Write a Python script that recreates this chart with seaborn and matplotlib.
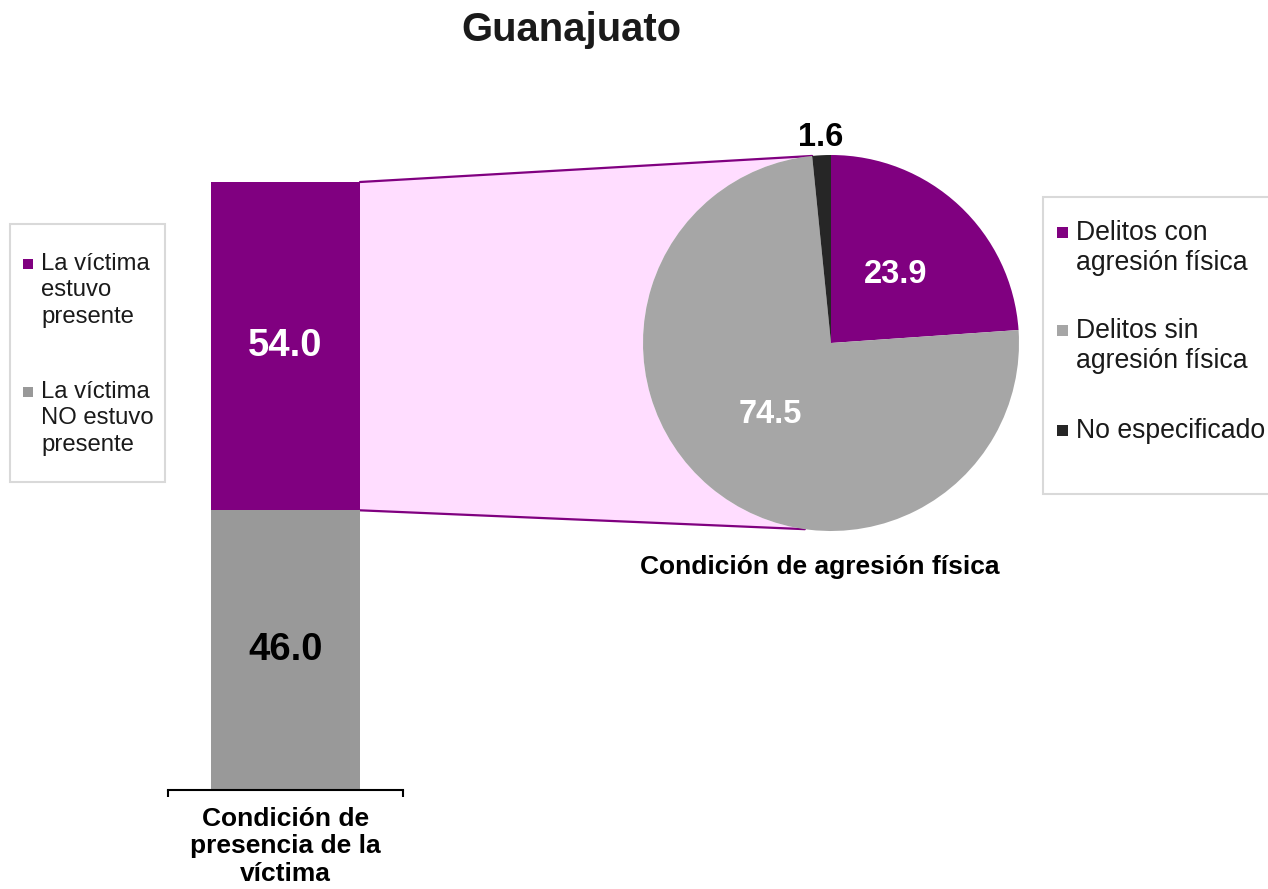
import numpy as np
import pandas as pd
import seaborn as sns
from matplotlib import pyplot as plt
from matplotlib.patches import Polygon, Rectangle

# data
titulo = "Guanajuato"
presencia_cat = "Condición de\npresencia de la\nvíctima"
presencia_labels = ["La víctima\nestuvo\npresente", "La víctima\nNO estuvo\npresente"]
presencia_values = [54.0, 46.0]
agresion_title = "Condición de agresión física"
agresion_labels = ["Delitos con\nagresión física", "Delitos sin\nagresión física", "No especificado"]
agresion_values = [23.9, 74.5, 1.6]

PURPLE = "#800080"
GRAY_BAR = "#999999"
GRAY_PIE = "#A6A6A6"
DARK = "#262626"
PINK = "#FFDDFF"

sns.set_theme(style="white")
plt.rcParams['font.family'] = ['Liberation Sans', 'DejaVu Sans']

W, H = 1268, 889
fig = plt.figure(figsize=(W / 100, H / 100), dpi=100)

# overlay in pixel coords for connectors and legends
over = fig.add_axes([0, 0, 1, 1], zorder=0)
over.set_xlim(0, W)
over.set_ylim(H, 0)
over.axis("off")

# stacked bar
bar_ax = fig.add_axes([168 / W, (H - 790) / H, 235 / W, 608 / H], zorder=2)
bar_ax.set_facecolor("none")
total = sum(presencia_values)
df_bar = pd.DataFrame({"cat": [presencia_cat], "total": [total], "low": [presencia_values[1]]})
sns.barplot(data=df_bar, x="cat", y="total", color=PURPLE, saturation=1, width=0.634,
            linewidth=0, ax=bar_ax)
sns.barplot(data=df_bar, x="cat", y="low", color=GRAY_BAR, saturation=1, width=0.634,
            linewidth=0, ax=bar_ax)
bar_ax.set_xlim(-0.5, 0.5)
bar_ax.set_ylim(0, total)
bar_ax.set_xlabel("")
bar_ax.set_ylabel("")
bar_ax.set_yticks([])
bar_ax.set_xticks([-0.5, 0.5], labels=["", ""])
bar_ax.set_xticks([0], labels=[presencia_cat], minor=True)
bar_ax.tick_params(axis="x", which="major", direction="out", length=5, width=1.5,
                   color="black", bottom=True)
bar_ax.tick_params(axis="x", which="minor", length=0, pad=12, labelsize=19)
for lab in bar_ax.get_xticklabels(minor=True):
    lab.set_fontweight("bold")
    lab.set_linespacing(1.2)
    lab.set_color("black")
for side in ["left", "top", "right"]:
    bar_ax.spines[side].set_visible(False)
bar_ax.spines["bottom"].set_color("black")
bar_ax.spines["bottom"].set_linewidth(1.5)

bar_patch = bar_ax.patches[0]
bx = bar_patch.get_x() + bar_patch.get_width() / 2
bar_ax.text(bx, presencia_values[1] + presencia_values[0] / 2, f"{presencia_values[0]:.1f}",
            ha="center", va="center", color="white", fontsize=27.5, fontweight="bold")
bar_ax.text(bx, presencia_values[1] / 2, f"{presencia_values[1]:.1f}",
            ha="center", va="center", color="black", fontsize=27.5, fontweight="bold")

# pie
cx, cy, r = 831, 343, 188
pie_ax = fig.add_axes([(cx - r) / W, (H - cy - r) / H, 2 * r / W, 2 * r / H], zorder=2)
wedges, _ = pie_ax.pie(agresion_values, colors=[PURPLE, GRAY_PIE, DARK], startangle=90,
                       counterclock=False, radius=1, wedgeprops={"linewidth": 0})
pie_ax.set_xlim(-1, 1)
pie_ax.set_ylim(-1, 1)
dists = [0.5, 0.5, 1.095]
tcolors = ["white", "white", "black"]
for w, v, d, c in zip(wedges, agresion_values, dists, tcolors):
    ang = np.deg2rad((w.theta1 + w.theta2) / 2)
    pie_ax.text(d * np.cos(ang), d * np.sin(ang), f"{v:.1f}", ha="center", va="center",
                color=c, fontsize=23.5, fontweight="bold", clip_on=False)


def to_px(ax, x, y):
    return over.transData.inverted().transform(ax.transData.transform((x, y)))


# connector region
bar_right = bar_patch.get_x() + bar_patch.get_width()
p_top = to_px(bar_ax, bar_right, total)
p_bot = to_px(bar_ax, bar_right, presencia_values[1])
a_top = wedges[1].theta1 % 360  # boundary gray / dark
a_bot = 262.0
arc = np.deg2rad(np.linspace(a_bot, a_top, 120))
arc_pts = [to_px(pie_ax, np.cos(a), np.sin(a)) for a in arc]
poly = np.vstack([p_top, p_bot] + arc_pts)
over.add_patch(Polygon(poly, closed=True, facecolor=PINK, edgecolor="none", zorder=1))
over.plot([p_top[0], arc_pts[-1][0]], [p_top[1], arc_pts[-1][1]], color=PURPLE, lw=1.6, zorder=2)
over.plot([p_bot[0], arc_pts[0][0]], [p_bot[1], arc_pts[0][1]], color=PURPLE, lw=1.6, zorder=2)

# texts
fig.text(571 / W, 1 - 30 / H, titulo, ha="center", va="center", fontsize=28.8,
         fontweight="bold", color="#1a1a1a")
fig.text(820 / W, 1 - 567 / H, agresion_title, ha="center", va="center", fontsize=19,
         fontweight="bold", color="black")

# left legend
over.add_patch(Rectangle((10, 224), 155, 258, facecolor="white", edgecolor="#D9D9D9",
                         lw=1.5, zorder=3))
for lab, col, y0 in zip(presencia_labels, [PURPLE, GRAY_BAR], [264, 392]):
    over.add_patch(Rectangle((23, y0 - 5), 10, 10, facecolor=col, edgecolor="none", zorder=4))
    for i, line in enumerate(lab.split("\n")):
        over.text(41, y0 + i * 26.5, line, ha="left", va="center", fontsize=17.2,
                  color="#1a1a1a", zorder=4)

# right legend
over.add_patch(Rectangle((1043, 197), 240, 297, facecolor="white", edgecolor="#D9D9D9",
                         lw=1.5, zorder=3, clip_on=False))
for lab, col, y0 in zip(agresion_labels, [PURPLE, GRAY_PIE, DARK], [233, 331, 431]):
    over.add_patch(Rectangle((1057, y0 - 6), 11, 11, facecolor=col, edgecolor="none", zorder=4))
    for i, line in enumerate(lab.split("\n")):
        over.text(1076, y0 + i * 30, line, ha="left", va="center", fontsize=19.2,
                  color="#1a1a1a", zorder=4)

fig.savefig("out.png", dpi=100)
